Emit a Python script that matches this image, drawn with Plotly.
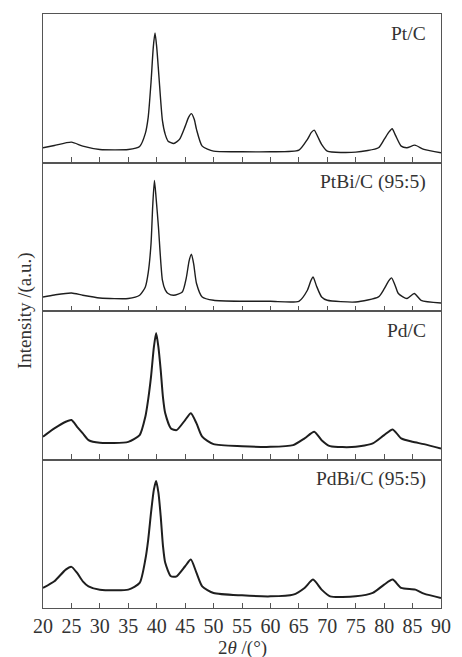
import plotly.graph_objects as go
from plotly.subplots import make_subplots

# ---- data (heights, arbitrary units) ----
labels = ["Pt/C", "PtBi/C (95:5)", "Pd/C", "PdBi/C (95:5)"]

tt_pt = [20, 22, 25, 27, 30, 35, 37, 38, 38.5, 39, 39.4, 39.7, 40.0, 40.4, 41, 41.5, 42, 43, 44, 45, 45.6, 46.1, 46.6, 47, 48, 50, 55, 60, 65, 66.5, 67.2, 67.7, 68.3, 69, 70, 75, 79, 80, 80.8, 81.4, 82, 83, 84, 85.4, 87, 90]
int_pt = [14.7, 17, 20.3, 16.3, 13, 13, 16, 29, 45, 80, 115, 129, 115, 85, 42, 28, 21.3, 19, 23, 36, 45, 48.7, 43, 33, 16.3, 11.3, 10.7, 10.7, 12.3, 23, 30, 32.3, 26, 18, 11.3, 10.3, 14.7, 23, 30, 33.7, 27, 16.3, 14.7, 17.3, 13, 9.7]

tt_ptbi = [20, 22, 25, 27, 30, 35, 37, 38, 38.5, 39, 39.3, 39.6, 39.9, 40.3, 41, 41.5, 42, 43, 44.5, 45.2, 45.7, 46.1, 46.5, 47, 48, 50, 55, 60, 65, 66.5, 67.1, 67.5, 68.1, 69, 70, 75, 79, 80, 80.8, 81.3, 81.9, 82.5, 84, 85.3, 86.5, 90]
int_ptbi = [14, 16, 18, 15.7, 13, 12.4, 15.7, 24, 38, 67, 105, 130, 112, 84, 30.7, 21, 17.4, 15.7, 19, 33, 50, 56.7, 47, 27.4, 14, 10.7, 9.7, 9.7, 9.7, 20.7, 30, 34, 25, 14, 10.7, 9, 14, 22, 30, 33, 26, 17.4, 12.4, 17.4, 10.7, 8]

tt_pd = [20, 22, 24, 25, 26, 27, 28, 30, 35, 37, 38, 38.5, 39, 39.5, 39.9, 40.3, 40.7, 41.1, 41.5, 42.5, 43.5, 45, 46, 47, 48, 50, 55, 60, 64, 66, 67.7, 69, 70.5, 75, 78, 80, 81.5, 83, 85, 87, 90]
int_pd = [22.7, 31, 37.6, 39.3, 32.6, 26, 19.3, 16.6, 17.6, 24.3, 42.6, 60, 82.6, 112, 126, 112, 89.3, 62, 46, 31, 29.3, 39.3, 46, 36, 22.7, 15.3, 13.3, 12.6, 14.3, 21, 27.6, 19.3, 13.3, 12.6, 16, 24.3, 30, 21, 17.6, 15.3, 11]

tt_pdbi = [20, 22, 24, 25, 26, 27, 28, 30, 35, 37, 38, 38.5, 39, 39.5, 39.9, 40.3, 40.7, 41.1, 41.5, 42.5, 43.5, 45, 46, 47, 48, 50, 55, 60, 64, 66, 67.5, 69, 70.5, 75, 78, 80, 81.5, 83, 85.5, 87, 90]
int_pdbi = [20, 26.6, 38.3, 41, 35, 26.6, 21.6, 18.3, 18.3, 25, 48.3, 68, 95, 118, 126.6, 115, 91.6, 62, 45, 31.6, 31.6, 41.6, 48.3, 35, 21.6, 15, 12.6, 11.6, 13.3, 20, 28.3, 18.3, 11.6, 11.6, 15, 23.3, 28.3, 20, 18.3, 14.3, 10]

x_ticks = [20, 25, 30, 35, 40, 45, 50, 55, 60, 65, 70, 75, 80, 85, 90]

series = [(tt_pt, int_pt, 1.4), (tt_ptbi, int_ptbi, 1.4), (tt_pd, int_pd, 2.0), (tt_pdbi, int_pdbi, 2.0)]

FONT = "Liberation Serif"
TXT = "#333333"
AX = "#555555"

fig = make_subplots(rows=4, cols=1, shared_xaxes=True, vertical_spacing=0)

for i, (xs, ys, w) in enumerate(series):
    fig.add_trace(go.Scatter(x=xs, y=ys, mode="lines",
                             line=dict(color="#1e1e1e", width=w, shape="spline", smoothing=0.6),
                             showlegend=False, hoverinfo="skip"), row=i + 1, col=1)
    fig.update_yaxes(range=[0, 148], showline=True, linecolor=AX, linewidth=1.2, mirror=True,
                     showticklabels=False, ticks="", showgrid=False, zeroline=False,
                     row=i + 1, col=1)
    fig.update_xaxes(range=[20, 90], tickvals=x_ticks, ticks="inside", ticklen=5, tickwidth=1,
                     tickcolor=AX, showline=True, linecolor=AX, linewidth=1.2, mirror=True,
                     showgrid=False, zeroline=False, showticklabels=(i == 3),
                     tickfont=dict(family=FONT, size=20, color=TXT),
                     row=i + 1, col=1)
    yref = "y" if i == 0 else f"y{i + 1}"
    xref = "x" if i == 0 else f"x{i + 1}"
    fig.add_annotation(text=labels[i], xref=f"{xref} domain", yref=f"{yref} domain",
                       x=1, y=1, xanchor="right", yanchor="middle", xshift=-13, yshift=-19,
                       showarrow=False, font=dict(family=FONT, size=19.5, color=TXT))

fig.add_annotation(text="Intensity /(a.u.)", xref="paper", yref="paper", x=0, y=0.5,
                   xanchor="center", yanchor="middle", xshift=-18, textangle=-90,
                   showarrow=False, font=dict(family=FONT, size=19, color=TXT))
fig.add_annotation(text="2<i>θ</i> /(°)", xref="paper", yref="paper", x=0.5, y=0,
                   xanchor="center", yanchor="middle", yshift=-40,
                   showarrow=False, font=dict(family=FONT, size=19, color=TXT))

fig.update_layout(width=462, height=657, margin=dict(l=43, r=11, t=14, b=49),
                  plot_bgcolor="white", paper_bgcolor="white")

fig.write_html("out.html")
